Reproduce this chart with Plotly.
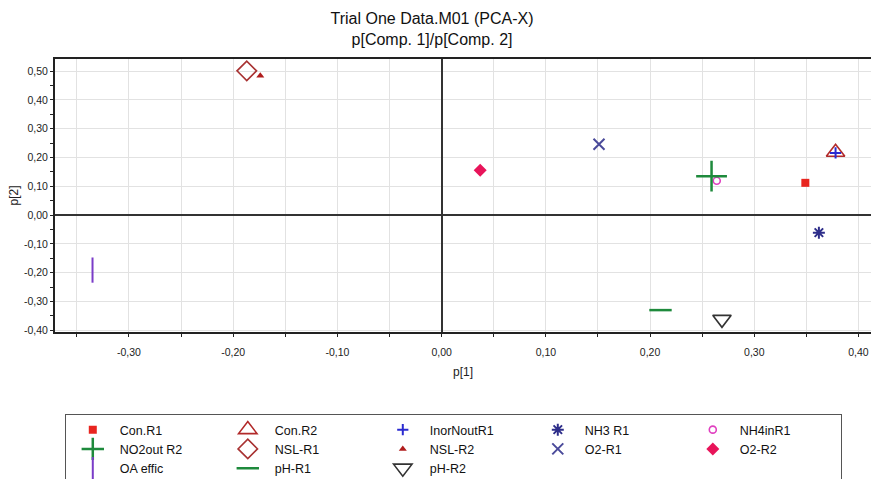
import plotly.graph_objects as go

# ---- data ----
names = ["Con.R1", "Con.R2", "InorNoutR1", "NH3 R1", "NH4inR1",
         "NO2out R2", "NSL-R1", "NSL-R2", "O2-R1", "O2-R2",
         "OA effic", "pH-R1", "pH-R2"]
p1 = [0.349, 0.378, 0.378, 0.362, 0.264,
      0.259, -0.187, -0.174, 0.151, 0.037,
      -0.335, 0.210, 0.269]
p2 = [0.112, 0.218, 0.216, -0.061, 0.119,
      0.135, 0.501, 0.484, 0.246, 0.156,
      -0.191, -0.330, -0.362]

x_ticks = [-0.3, -0.2, -0.1, 0.0, 0.1, 0.2, 0.3, 0.4]
x_ticktext = ["-0,30", "-0,20", "-0,10", "0,00", "0,10", "0,20", "0,30", "0,40"]
y_ticks = [-0.4, -0.3, -0.2, -0.1, 0.0, 0.1, 0.2, 0.3, 0.4, 0.5]
y_ticktext = ["-0,40", "-0,30", "-0,20", "-0,10", "0,00", "0,10", "0,20", "0,30", "0,40", "0,50"]

# ---- styles ----
symbols = ["square", "triangle-up-open", "cross-thin-open", "asterisk-open", "circle-open",
           "cross-thin-open", "diamond-open", "triangle-up", "x-thin-open", "diamond",
           "line-ns-open", "line-ew-open", "triangle-down-open"]
sizes = [8, 16, 8, 10, 7, 22, 15, 7, 11, 10, 18, 16, 16]
colors = ["#e8251f", "#b22a2a", "#2a2ad0", "#2e2e8a", "#e040c0",
          "#1e8a3c", "#a83232", "#b01c1c", "#4a4a9a", "#e8145a",
          "#7a3cc8", "#1e8a3c", "#333333"]
lwidths = [0, 1.6, 2, 2, 1.6, 2.5, 1.6, 0, 2, 0, 2, 2.5, 1.6]

fig = go.Figure()
for i, n in enumerate(names):
    fig.add_trace(go.Scatter(
        x=[p1[i]], y=[p2[i]], mode="markers", name=n,
        marker=dict(symbol=symbols[i], size=sizes[i], color=colors[i],
                    line=dict(color=colors[i], width=lwidths[i])),
    ))

font = "Liberation Sans, Arial, sans-serif"
fig.update_layout(
    width=871, height=479,
    margin=dict(l=55, r=0, t=59, b=147),
    paper_bgcolor="white", plot_bgcolor="white",
    font=dict(family=font, color="#222"),
    title=dict(text="Trial One Data.M01 (PCA-X)<br>p[Comp. 1]/p[Comp. 2]",
               x=0.496, xanchor="center", xref="container",
               y=1 - 24 / 479, yanchor="middle", yref="container",
               font=dict(size=16, color="#111")),
    showlegend=True,
    legend=dict(orientation="h", x=0.012, xanchor="left",
                y=1 - 414 / 479, yanchor="top", yref="container",
                entrywidth=96, entrywidthmode="pixels", itemwidth=44,
                bordercolor="#555", borderwidth=1, bgcolor="white",
                font=dict(size=12.5, color="#111"), traceorder="normal"),
    xaxis=dict(range=[-0.371, 0.412], tickvals=x_ticks, ticktext=x_ticktext,
               tickfont=dict(size=10.5), ticks="outside", ticklen=3, tickcolor="#222",
               ticklabelstandoff=6,
               showgrid=True, gridcolor="#e2e2e2", gridwidth=1,
               minor=dict(dtick=0.05, tick0=0, ticks="outside", ticklen=3,
                          tickcolor="#222", showgrid=True, gridcolor="#e2e2e2"),
               zeroline=True, zerolinecolor="#333", zerolinewidth=2,
               showline=True, linecolor="#222", linewidth=2, mirror=True,
               title=dict(text="p[1]", font=dict(size=12), standoff=11)),
    yaxis=dict(range=[-0.406, 0.542], tickvals=y_ticks, ticktext=y_ticktext,
               tickfont=dict(size=10.5), ticks="outside", ticklen=3, tickcolor="#222",
               showgrid=True, gridcolor="#e2e2e2", gridwidth=1,
               minor=dict(dtick=0.05, tick0=0, ticks="outside", ticklen=3,
                          tickcolor="#222", showgrid=False),
               zeroline=True, zerolinecolor="#333", zerolinewidth=2,
               showline=True, linecolor="#222", linewidth=2,
               title=dict(text="p[2]", font=dict(size=12), standoff=3)),
)

fig.write_html("out.html")
